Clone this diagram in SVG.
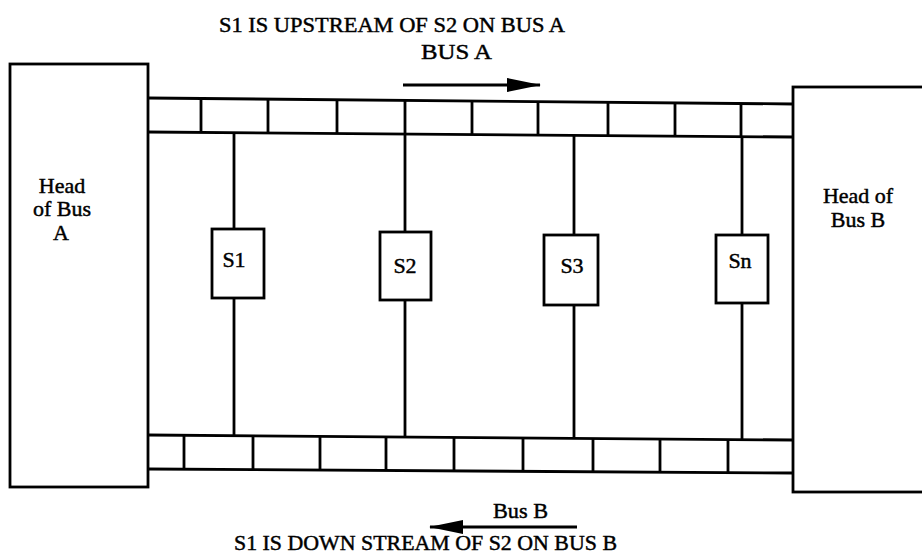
<svg xmlns="http://www.w3.org/2000/svg" width="922" height="556" viewBox="0 0 922 556">
<style>
.box{fill:#fff;stroke:#000;stroke-width:2.8}
.ln{fill:none;stroke:#000;stroke-width:2.8}
.t{font-family:"Liberation Serif","Times New Roman",serif;font-size:22px;fill:#000;stroke:#000;stroke-width:0.45}
.c{text-anchor:middle}
</style>
<defs>
<marker id="ah" markerUnits="userSpaceOnUse" viewBox="0 0 34 14" markerWidth="34" markerHeight="14" refX="33" refY="7" orient="auto">
<path d="M0,0 L34,7 L0,14 Z" fill="#000"/>
</marker>
</defs>
<rect width="922" height="556" fill="#fff"/>

<g id="headA">
<rect class="box" x="10" y="64" width="138" height="423"/>
<text class="t c" x="62" y="193">Head</text>
<text class="t c" x="62" y="216">of Bus</text>
<text class="t c" x="61" y="240">A</text>
</g>

<g id="headB">
<rect class="box" x="793" y="87" width="135" height="405"/>
<text class="t c" x="858" y="203">Head of</text>
<text class="t c" x="858" y="227">Bus B</text>
</g>

<g id="busA">
<path class="ln" d="M148,98 L793,104 M148,132 L793,137"/>
<path class="ln" d="M201,98.5V132.5 M268,99V133 M337,99.5V133.5 M405,100.5V134 M472,101V134.5 M538,101.5V135 M608,102V135.5 M675,103V136 M741,103.5V136.5"/>
</g>

<g id="busB">
<path class="ln" d="M148,435 L793,440 M148,469 L793,473"/>
<path class="ln" d="M184,435V469 M253,436V469.5 M320,436.5V470 M386,437V470.5 M454,437.5V471 M523,438V471.5 M593,438.5V472 M660,439V472.5 M728,439.5V473"/>
</g>

<g id="s1">
<rect class="box" x="212" y="229" width="52" height="69"/>
<text class="t c" x="234" y="267">S1</text>
</g>
<g id="s2">
<rect class="box" x="380" y="232" width="51" height="68"/>
<text class="t c" x="405" y="273">S2</text>
</g>
<g id="s3">
<rect class="box" x="544" y="235" width="54" height="70"/>
<text class="t c" x="572" y="273">S3</text>
</g>
<g id="sn">
<rect class="box" x="716" y="235" width="52" height="68"/>
<text class="t c" x="740" y="268">Sn</text>
</g>

<g id="connectors">
<path class="ln" d="M234,132V229 M234,298V436"/>
<path class="ln" d="M405,134V232 M405,300V437"/>
<path class="ln" d="M574,135V235 M574,305V438.5"/>
<path class="ln" d="M742,136.5V235 M742,303V439.5"/>
<line x1="403" y1="85" x2="540" y2="85" stroke="#000" stroke-width="3" marker-end="url(#ah)"/>
<line x1="577" y1="527" x2="430" y2="527" stroke="#000" stroke-width="3" marker-end="url(#ah)"/>
</g>

<g id="labels">
<text class="t" x="219" y="32" textLength="346" lengthAdjust="spacingAndGlyphs">S1 IS UPSTREAM OF S2 ON BUS A</text>
<text class="t" x="421" y="59" textLength="71" lengthAdjust="spacingAndGlyphs">BUS A</text>
<text class="t" x="493" y="518" textLength="55" lengthAdjust="spacingAndGlyphs">Bus B</text>
<text class="t" x="234" y="550" textLength="383" lengthAdjust="spacingAndGlyphs">S1 IS DOWN STREAM OF S2 ON BUS B</text>
</g>
</svg>
